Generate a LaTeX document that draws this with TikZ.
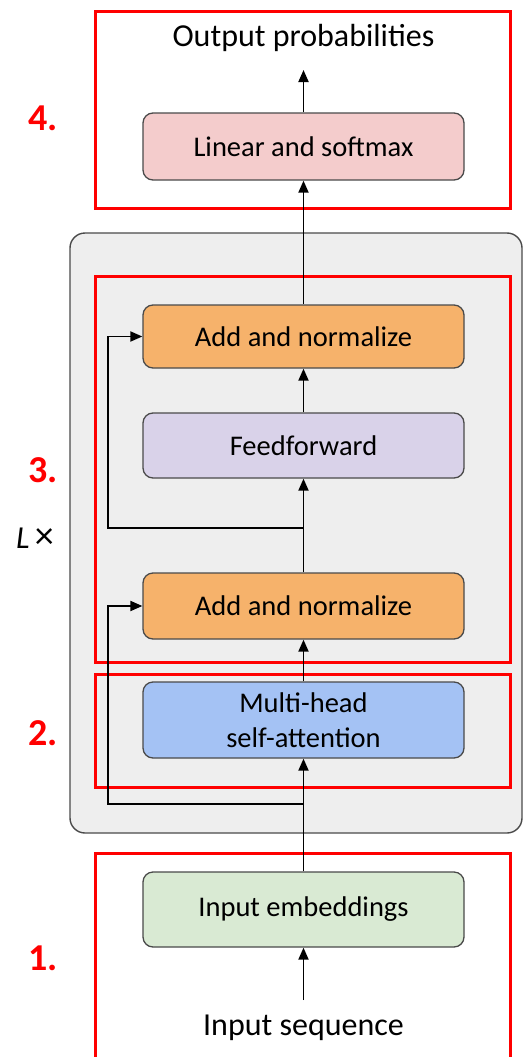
\documentclass[tikz,border=0pt]{standalone}
\usepackage{fontspec}
\setmainfont{Carlito}
\usetikzlibrary{arrows.meta}
\definecolor{boxline}{HTML}{4A4A4A}
\definecolor{grayfill}{HTML}{EEEEEE}
\definecolor{pinkfill}{HTML}{F4CCCC}
\definecolor{orangefill}{HTML}{F6B26B}
\definecolor{purplefill}{HTML}{D9D2E9}
\definecolor{bluefill}{HTML}{A4C2F4}
\definecolor{greenfill}{HTML}{D9EAD3}
\definecolor{redline}{HTML}{FF0000}
\tikzset{
  layer/.style={draw=boxline, line width=1.3pt, rounded corners=10pt, minimum width=321pt, align=center, font=\fontsize{28.5}{35}\selectfont, inner sep=0pt},
  plain/.style={font=\fontsize{32}{36}\selectfont, inner sep=0pt},
  redbox/.style={draw=redline, line width=3pt},
  numlbl/.style={text=redline, font=\fontsize{38}{40}\selectfont\bfseries, inner sep=0pt},
  arr/.style={line width=1.9pt, -{Triangle[length=12pt,width=10pt]}},
}
\begin{document}
\begin{tikzpicture}[x=1pt,y=-1pt]
\useasboundingbox (0,0) rectangle (525,1057);
% gray repeated block
\draw[draw=boxline, fill=grayfill, line width=1.4pt, rounded corners=15pt] (70,233) rectangle (522,833);
% red boxes
\draw[redbox] (95,12) rectangle (510,208);
\draw[redbox] (95,276) rectangle (510,662);
\draw[redbox] (95,674) rectangle (510,787);
\draw[redbox] (95,1070) -- (95,853) -- (510,853) -- (510,1070);
% labels
\node[numlbl] (n4) at (43,118) {4.};
\node[numlbl] (n3) at (43,470) {3.};
\node[numlbl] (n2) at (43,733) {2.};
\node[numlbl] (n1) at (43,958) {1.};
\node[plain] (lx) at (35,538) {\textit{L}\,{\fontsize{38}{38}\selectfont ×}};
% nodes
\node[plain] (out) at (303.5,38) {Output probabilities};
\node[layer, fill=pinkfill, minimum height=67pt] (lin) at (303.5,146.5) {Linear and softmax};
\node[layer, fill=orangefill, minimum height=63pt] (an2) at (303.5,336.5) {Add and normalize};
\node[layer, fill=purplefill, minimum height=65pt] (ff) at (303.5,445.5) {Feedforward};
\node[layer, fill=orangefill, minimum height=66pt] (an1) at (303.5,606) {Add and normalize};
\node[layer, fill=bluefill, minimum height=76pt] (mh) at (303.5,720) {Multi-head\\self-attention};
\node[layer, fill=greenfill, minimum height=75pt] (ie) at (303.5,909.5) {Input embeddings};
\node[plain] (seq) at (303.5,1028) {Input sequence};
% branch coordinates
\coordinate (b1) at (303.5,804);
\coordinate (b2) at (303.5,528);
\coordinate (seqtop) at (303.5,1000);
\coordinate (outbot) at (303.5,70);
% connectors
\draw[arr] (seqtop) -- (ie.south);
\draw[arr] (ie.north) -- (mh.south);
\draw[arr] (mh.north) -- (an1.south);
\draw[arr] (an1.north) -- (ff.south);
\draw[arr] (ff.north) -- (an2.south);
\draw[arr] (an2.north) -- (lin.south);
\draw[arr] (lin.north) -- (outbot);
\draw[arr] (b1) -- (108,804) |- (an1.west);
\draw[arr] (b2) -- (108,528) |- (an2.west);
\end{tikzpicture}
\end{document}
